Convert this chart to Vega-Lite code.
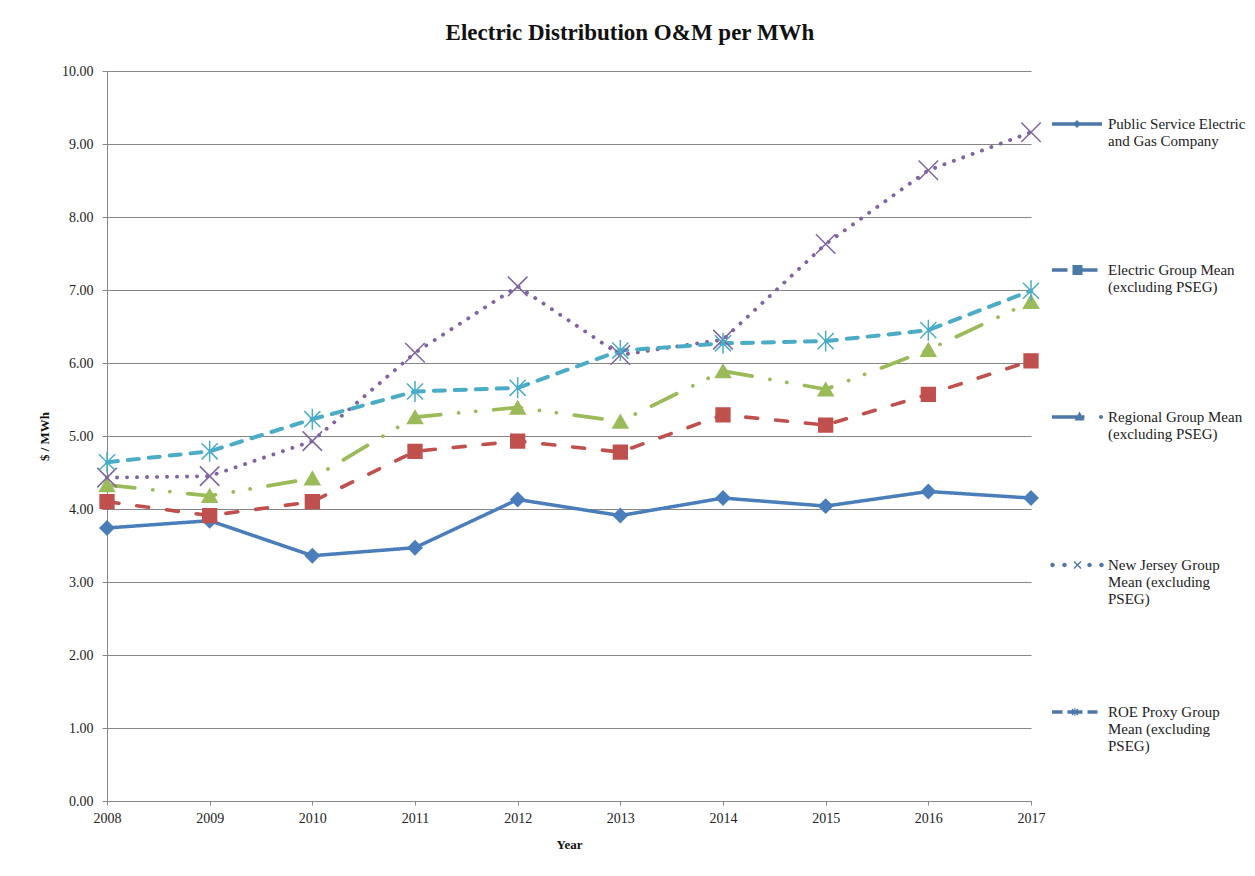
{
  "$schema": "https://vega.github.io/schema/vega-lite/v6.json",
  "autosize": {"type": "none"},
  "padding": {"left": 107, "top": 71, "right": 224, "bottom": 75},
  "width": 924,
  "height": 730,
  "background": "white",
  "title": {
    "text": "Electric Distribution O&M per MWh",
    "font": "Liberation Serif",
    "fontSize": 23,
    "fontWeight": "bold",
    "color": "#111111",
    "anchor": "middle",
    "dx": 61,
    "offset": 19
  },
  "config": {
    "font": "Liberation Serif",
    "view": {"stroke": null},
    "axis": {
      "labelFont": "Liberation Serif",
      "titleFont": "Liberation Serif",
      "labelFontSize": 14,
      "titleFontSize": 13,
      "labelColor": "#222222",
      "titleColor": "#111111",
      "domainColor": "#868686",
      "tickColor": "#868686",
      "gridColor": "#868686",
      "gridWidth": 1,
      "domainWidth": 1
    },
    "legend": {
      "orient": "none",
      "symbolSize": 8100,
      "symbolStrokeWidth": 0,
      "symbolOpacity": 1,
      "labelFont": "Liberation Serif",
      "labelFontSize": 15,
      "labelColor": "#222222",
      "labelLimit": 220,
      "labelOffset": -14,
      "labelBaseline": "top"
    }
  },
  "data": {
    "values": [
      {"year": 2008, "series": "Public Service Electric and Gas Company", "value": 3.74},
      {"year": 2009, "series": "Public Service Electric and Gas Company", "value": 3.84},
      {"year": 2010, "series": "Public Service Electric and Gas Company", "value": 3.36},
      {"year": 2011, "series": "Public Service Electric and Gas Company", "value": 3.47},
      {"year": 2012, "series": "Public Service Electric and Gas Company", "value": 4.13},
      {"year": 2013, "series": "Public Service Electric and Gas Company", "value": 3.91},
      {"year": 2014, "series": "Public Service Electric and Gas Company", "value": 4.15},
      {"year": 2015, "series": "Public Service Electric and Gas Company", "value": 4.04},
      {"year": 2016, "series": "Public Service Electric and Gas Company", "value": 4.24},
      {"year": 2017, "series": "Public Service Electric and Gas Company", "value": 4.15},
      {"year": 2008, "series": "Electric Group Mean (excluding PSEG)", "value": 4.10},
      {"year": 2009, "series": "Electric Group Mean (excluding PSEG)", "value": 3.91},
      {"year": 2010, "series": "Electric Group Mean (excluding PSEG)", "value": 4.10},
      {"year": 2011, "series": "Electric Group Mean (excluding PSEG)", "value": 4.79},
      {"year": 2012, "series": "Electric Group Mean (excluding PSEG)", "value": 4.93},
      {"year": 2013, "series": "Electric Group Mean (excluding PSEG)", "value": 4.78},
      {"year": 2014, "series": "Electric Group Mean (excluding PSEG)", "value": 5.29},
      {"year": 2015, "series": "Electric Group Mean (excluding PSEG)", "value": 5.15},
      {"year": 2016, "series": "Electric Group Mean (excluding PSEG)", "value": 5.57},
      {"year": 2017, "series": "Electric Group Mean (excluding PSEG)", "value": 6.03},
      {"year": 2008, "series": "Regional Group Mean (excluding PSEG)", "value": 4.33},
      {"year": 2009, "series": "Regional Group Mean (excluding PSEG)", "value": 4.18},
      {"year": 2010, "series": "Regional Group Mean (excluding PSEG)", "value": 4.42},
      {"year": 2011, "series": "Regional Group Mean (excluding PSEG)", "value": 5.26},
      {"year": 2012, "series": "Regional Group Mean (excluding PSEG)", "value": 5.39},
      {"year": 2013, "series": "Regional Group Mean (excluding PSEG)", "value": 5.20},
      {"year": 2014, "series": "Regional Group Mean (excluding PSEG)", "value": 5.89},
      {"year": 2015, "series": "Regional Group Mean (excluding PSEG)", "value": 5.64},
      {"year": 2016, "series": "Regional Group Mean (excluding PSEG)", "value": 6.18},
      {"year": 2017, "series": "Regional Group Mean (excluding PSEG)", "value": 6.84},
      {"year": 2008, "series": "New Jersey Group Mean (excluding PSEG)", "value": 4.43},
      {"year": 2009, "series": "New Jersey Group Mean (excluding PSEG)", "value": 4.45},
      {"year": 2010, "series": "New Jersey Group Mean (excluding PSEG)", "value": 4.93},
      {"year": 2011, "series": "New Jersey Group Mean (excluding PSEG)", "value": 6.14},
      {"year": 2012, "series": "New Jersey Group Mean (excluding PSEG)", "value": 7.05},
      {"year": 2013, "series": "New Jersey Group Mean (excluding PSEG)", "value": 6.11},
      {"year": 2014, "series": "New Jersey Group Mean (excluding PSEG)", "value": 6.32},
      {"year": 2015, "series": "New Jersey Group Mean (excluding PSEG)", "value": 7.63},
      {"year": 2016, "series": "New Jersey Group Mean (excluding PSEG)", "value": 8.64},
      {"year": 2017, "series": "New Jersey Group Mean (excluding PSEG)", "value": 9.16},
      {"year": 2008, "series": "ROE Proxy Group Mean (excluding PSEG)", "value": 4.64},
      {"year": 2009, "series": "ROE Proxy Group Mean (excluding PSEG)", "value": 4.79},
      {"year": 2010, "series": "ROE Proxy Group Mean (excluding PSEG)", "value": 5.23},
      {"year": 2011, "series": "ROE Proxy Group Mean (excluding PSEG)", "value": 5.61},
      {"year": 2012, "series": "ROE Proxy Group Mean (excluding PSEG)", "value": 5.66},
      {"year": 2013, "series": "ROE Proxy Group Mean (excluding PSEG)", "value": 6.17},
      {"year": 2014, "series": "ROE Proxy Group Mean (excluding PSEG)", "value": 6.27},
      {"year": 2015, "series": "ROE Proxy Group Mean (excluding PSEG)", "value": 6.30},
      {"year": 2016, "series": "ROE Proxy Group Mean (excluding PSEG)", "value": 6.45},
      {"year": 2017, "series": "ROE Proxy Group Mean (excluding PSEG)", "value": 6.99}
    ]
  },
  "encoding": {
    "x": {
      "field": "year",
      "type": "quantitative",
      "scale": {"domain": [2008, 2017], "nice": false, "zero": false},
      "axis": {
        "title": "Year",
        "titleFontWeight": "bold",
        "values": [2008, 2009, 2010, 2011, 2012, 2013, 2014, 2015, 2016, 2017],
        "format": "d",
        "grid": false,
        "tickSize": 4,
        "labelPadding": 6,
        "titlePadding": 13,
        "labelFlush": false
      }
    },
    "y": {
      "field": "value",
      "type": "quantitative",
      "scale": {"domain": [0, 10], "nice": false},
      "axis": {
        "title": "$ / MWh",
        "titleFontWeight": "bold",
        "values": [0, 1, 2, 3, 4, 5, 6, 7, 8, 9, 10],
        "format": ".2f",
        "grid": true,
        "tickSize": 5,
        "labelPadding": 9,
        "titlePadding": 10
      }
    }
  },
  "layer": [
    {
      "mark": {"type": "line", "strokeCap": "round"},
      "encoding": {
        "color": {
          "field": "series",
          "type": "nominal",
          "scale": {
            "domain": ["Public Service Electric and Gas Company", "Electric Group Mean (excluding PSEG)", "Regional Group Mean (excluding PSEG)", "New Jersey Group Mean (excluding PSEG)", "ROE Proxy Group Mean (excluding PSEG)"],
            "range": ["#4A7EBB", "#C0504D", "#9BBB59", "#8064A2", "#4BACC6"]
          },
          "legend": null
        },
        "strokeDash": {
          "field": "series",
          "type": "nominal",
          "scale": {
            "domain": ["Public Service Electric and Gas Company", "Electric Group Mean (excluding PSEG)", "Regional Group Mean (excluding PSEG)", "New Jersey Group Mean (excluding PSEG)", "ROE Proxy Group Mean (excluding PSEG)"],
            "range": [[1, 0], [12, 18], [28, 18, 0.1, 17, 0.1, 18], [0.1, 9.9], [11, 10]]
          },
          "legend": null
        },
        "strokeWidth": {
          "field": "series",
          "type": "nominal",
          "scale": {
            "domain": ["Public Service Electric and Gas Company", "Electric Group Mean (excluding PSEG)", "Regional Group Mean (excluding PSEG)", "New Jersey Group Mean (excluding PSEG)", "ROE Proxy Group Mean (excluding PSEG)"],
            "range": [3.5, 4, 4, 5, 4.5]
          },
          "legend": null
        }
      }
    },
    {
      "transform": [{"filter": "datum.series == 'Public Service Electric and Gas Company'"}],
      "mark": {"type": "point", "shape": "diamond", "filled": true, "opacity": 1, "size": 190, "color": "#4A7EBB", "stroke": "#4A7EBB", "strokeWidth": 1.5}
    },
    {
      "transform": [{"filter": "datum.series == 'Electric Group Mean (excluding PSEG)'"}],
      "mark": {"type": "point", "shape": "square", "filled": true, "opacity": 1, "size": 190, "color": "#C0504D", "stroke": "#C0504D", "strokeWidth": 1.5}
    },
    {
      "transform": [{"filter": "datum.series == 'Regional Group Mean (excluding PSEG)'"}],
      "mark": {"type": "point", "shape": "triangle-up", "filled": true, "opacity": 1, "size": 225, "color": "#9BBB59", "stroke": "#9BBB59", "strokeWidth": 1.5}
    },
    {
      "transform": [{"filter": "datum.series == 'New Jersey Group Mean (excluding PSEG)'"}],
      "mark": {"type": "point", "shape": "M-1,-1L1,1M1,-1L-1,1", "filled": false, "opacity": 1, "size": 380, "stroke": "#8064A2", "strokeWidth": 1.5}
    },
    {
      "transform": [{"filter": "datum.series == 'ROE Proxy Group Mean (excluding PSEG)'"}],
      "mark": {"type": "point", "shape": "M-1,-1L1,1M1,-1L-1,1M0,-1.3V1.3", "filled": false, "opacity": 1, "size": 260, "stroke": "#4BACC6", "strokeWidth": 1.5}
    },
    {
      "transform": [{"filter": "datum.series == 'Public Service Electric and Gas Company'"}],
      "mark": {"type": "point", "filled": true, "opacity": 0, "size": 8100},
      "encoding": {
        "shape": {
          "field": "series",
          "type": "nominal",
          "scale": {
            "domain": ["Public Service Electric and Gas Company"],
            "range": ["M0,-1.15V1.15 M-0.556,0.117H0.556V0.195H-0.556Z M0,0.067L0.089,0.156L0,0.245L-0.089,0.156Z"]
          },
          "legend": {
            "title": null,
            "legendX": 925,
            "legendY": 1,
            "symbolFillColor": "#4A7EBB",
            "labelExpr": "['Public Service Electric','and Gas Company']"
          }
        }
      }
    },
    {
      "transform": [{"filter": "datum.series == 'Electric Group Mean (excluding PSEG)'"}],
      "mark": {"type": "point", "filled": true, "opacity": 0, "size": 8100},
      "encoding": {
        "shape": {
          "field": "series",
          "type": "nominal",
          "scale": {
            "domain": ["Electric Group Mean (excluding PSEG)"],
            "range": ["M0,-1.15V1.15 M-0.556,0.117H-0.211V0.195H-0.556Z M-0.1,0.045H0.122V0.267H-0.1Z M0.122,0.117H0.456V0.195H0.122Z"]
          },
          "legend": {
            "title": null,
            "legendX": 925,
            "legendY": 147,
            "symbolFillColor": "#C0504D",
            "labelExpr": "['Electric Group Mean','(excluding PSEG)']"
          }
        }
      }
    },
    {
      "transform": [{"filter": "datum.series == 'Regional Group Mean (excluding PSEG)'"}],
      "mark": {"type": "point", "filled": true, "opacity": 0, "size": 8100},
      "encoding": {
        "shape": {
          "field": "series",
          "type": "nominal",
          "scale": {
            "domain": ["Regional Group Mean (excluding PSEG)"],
            "range": ["M0,-1.15V1.15 M-0.556,0.117H0.167V0.195H-0.556Z M0.056,0.034L0.167,0.234L-0.056,0.234Z M0.489,0.156A0.044,0.044 0 1,1 0.578,0.156A0.044,0.044 0 1,1 0.489,0.156Z"]
          },
          "legend": {
            "title": null,
            "legendX": 925,
            "legendY": 294,
            "symbolFillColor": "#9BBB59",
            "labelExpr": "['Regional Group Mean','(excluding PSEG)']"
          }
        }
      }
    },
    {
      "transform": [{"filter": "datum.series == 'New Jersey Group Mean (excluding PSEG)'"}],
      "mark": {"type": "point", "filled": true, "opacity": 0, "size": 8100},
      "encoding": {
        "shape": {
          "field": "series",
          "type": "nominal",
          "scale": {
            "domain": ["New Jersey Group Mean (excluding PSEG)"],
            "range": ["M0,-1.15V1.15 M-0.594,0.156A0.05,0.05 0 1,1 -0.494,0.156A0.05,0.05 0 1,1 -0.594,0.156Z M-0.328,0.156A0.05,0.05 0 1,1 -0.228,0.156A0.05,0.05 0 1,1 -0.328,0.156Z M0.228,0.156A0.05,0.05 0 1,1 0.328,0.156A0.05,0.05 0 1,1 0.228,0.156Z M0.494,0.156A0.05,0.05 0 1,1 0.594,0.156A0.05,0.05 0 1,1 0.494,0.156Z M-0.078,0.089L-0.056,0.067L0.1,0.223L0.078,0.245Z M0.078,0.067L0.1,0.089L-0.056,0.245L-0.078,0.223Z"]
          },
          "legend": {
            "title": null,
            "legendX": 925,
            "legendY": 442,
            "symbolFillColor": "#8064A2",
            "labelExpr": "['New Jersey Group','Mean (excluding','PSEG)']"
          }
        }
      }
    },
    {
      "transform": [{"filter": "datum.series == 'ROE Proxy Group Mean (excluding PSEG)'"}],
      "mark": {"type": "point", "filled": true, "opacity": 0, "size": 8100},
      "encoding": {
        "shape": {
          "field": "series",
          "type": "nominal",
          "scale": {
            "domain": ["ROE Proxy Group Mean (excluding PSEG)"],
            "range": ["M0,-1.15V1.15 M-0.556,0.117H-0.322V0.195H-0.556Z M-0.211,0.117H0.122V0.195H-0.211Z M0.233,0.117H0.456V0.195H0.233Z M-0.122,0.1L-0.1,0.078L0.033,0.212L0.011,0.234Z M0.011,0.078L0.033,0.1L-0.1,0.234L-0.122,0.212Z M-0.056,0.067H-0.033V0.245H-0.056Z"]
          },
          "legend": {
            "title": null,
            "legendX": 925,
            "legendY": 589,
            "symbolFillColor": "#4BACC6",
            "labelExpr": "['ROE Proxy Group','Mean (excluding','PSEG)']"
          }
        }
      }
    }
  ],
  "resolve": {"scale": {"shape": "independent"}}
}
